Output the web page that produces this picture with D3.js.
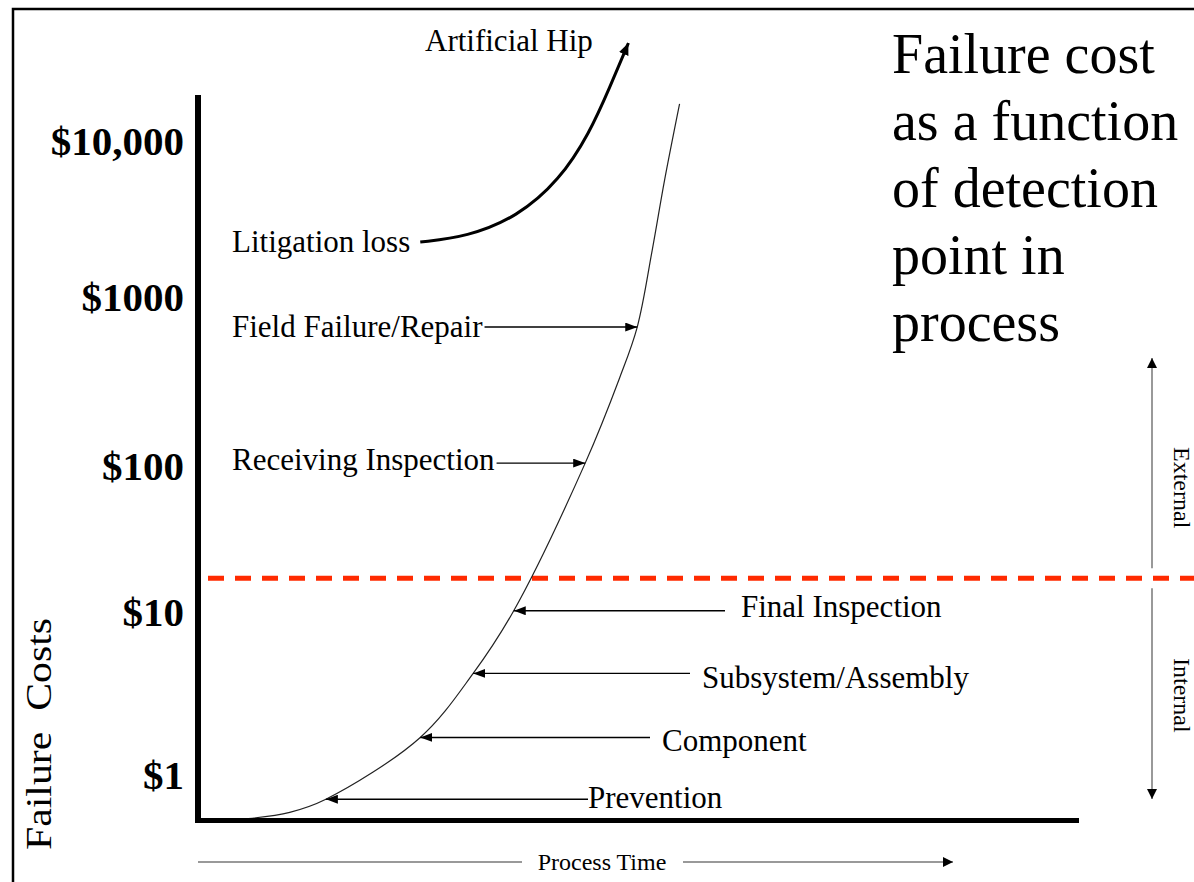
<!DOCTYPE html>
<html><head><meta charset="utf-8">
<script src="https://cdn.jsdelivr.net/npm/d3@7"></script>
<style>html,body{margin:0;padding:0;background:#fff;overflow:hidden}</style>
</head><body><svg id="c" width="1194" height="882"></svg>
<script>
// ---- data ----
const yTickValues = [1, 10, 100, 1000, 10000];
const yTickLabels = ["$1", "$10", "$100", "$1000", "$10,000"];
// main failure-cost curve (process time %, cost $)
const processTime = [5.7, 10.4, 14.5, 25.2, 31.2, 35.8, 43.9, 47.8, 49.8, 51.5, 52.9, 54.6];
const failureCost = [0.54, 0.59, 0.71, 1.7, 4.2, 10.2, 104, 332, 664, 2000, 5620, 17300];
// litigation loss -> artificial hip curve
const hipTime = [25.2, 30.5, 36.2, 41.0, 44.4, 46.7, 48.8];
const hipCost = [2250, 2430, 3260, 5620, 11250, 22200, 42500];
// detection stages
const stageLabels = ["Prevention", "Component", "Subsystem/Assembly", "Final Inspection", "Receiving Inspection", "Field Failure/Repair"];
const stageTime = [14.5, 25.2, 31.2, 35.8, 43.9, 49.8];
const stageCost = [0.71, 1.7, 4.2, 10.2, 104, 664];
const internalExternalCost = 17;
const titleLines = ["Failure cost", "as a function", "of detection", "point in", "process"];

// ---- layout ----
const W = 1194, H = 882;
const serif = "'Liberation Serif','Times New Roman',serif";
const svg = d3.select("#c");
svg.append("rect").attr("width", W).attr("height", H).attr("fill", "#fff");

const x = d3.scaleLinear().domain([0, 100]).range([198, 1080]);
const y = d3.scaleLog().domain(yTickValues).range([775, 612, 466, 297, 141]);

const defs = svg.append("defs");
function marker(id, color, len, wid) {
  defs.append("marker").attr("id", id).attr("viewBox", "0 0 10 10")
    .attr("refX", 10).attr("refY", 5).attr("markerUnits", "userSpaceOnUse")
    .attr("markerWidth", len).attr("markerHeight", wid).attr("orient", "auto")
    .attr("preserveAspectRatio", "none")
    .append("path").attr("d", "M0,0L10,5L0,10Z").attr("fill", color);
}
marker("ah", "#000", 12, 9);
marker("ahBig", "#000", 12, 10);
marker("ahSide", "#000", 10, 10);

// frame
svg.append("path").attr("d", `M13,${H}V9H${W}`).attr("stroke", "#000")
  .attr("stroke-width", 2.5).attr("fill", "none");

// title
const title = svg.append("text").attr("font-family", serif).attr("font-size", 56).attr("fill", "#000");
titleLines.forEach((t, i) => title.append("tspan").attr("x", 892).attr("y", 73 + i * 67).text(t));

// y tick labels via axis
const yAxis = svg.append("g").attr("transform", "translate(184,0)")
  .call(d3.axisLeft(y).tickValues(yTickValues).tickFormat((d, i) => yTickLabels[i]).tickSize(0).tickPadding(0));
yAxis.select(".domain").remove();
yAxis.selectAll("text").attr("font-family", serif).attr("font-size", 41)
  .attr("font-weight", "bold").attr("fill", "#000").attr("text-anchor", "end").attr("dy", "0.33em");

// y axis title
svg.append("text").attr("transform", "translate(51,850) rotate(-90)")
  .attr("font-family", serif).attr("font-size", 36).style("white-space", "pre")
  .attr("textLength", 232).attr("lengthAdjust", "spacingAndGlyphs").attr("fill", "#000")
  .text("Failure  Costs");

// red dashed threshold
const yT = y(internalExternalCost);
svg.append("line").attr("x1", 208).attr("x2", W).attr("y1", yT).attr("y2", yT)
  .attr("stroke", "#ff2a00").attr("stroke-width", 5).attr("stroke-dasharray", "16,11");

// main curve
const line = d3.line().x(d => x(d[0])).y(d => y(d[1])).curve(d3.curveCatmullRom.alpha(0.5));
svg.append("path").datum(processTime.map((t, i) => [t, failureCost[i]]))
  .attr("d", line).attr("fill", "none").attr("stroke", "#222").attr("stroke-width", 1.2);

// hip curve
const hipLine = d3.line().x(d => x(d[0])).y(d => y(d[1])).curve(d3.curveBasis);
svg.append("path").datum(hipTime.map((t, i) => [t, hipCost[i]]))
  .attr("d", hipLine).attr("fill", "none").attr("stroke", "#000").attr("stroke-width", 3)
  .attr("marker-end", "url(#ahBig)");

// axes lines
svg.append("line").attr("x1", x(0)).attr("x2", x(0)).attr("y1", 95).attr("y2", 823)
  .attr("stroke", "#000").attr("stroke-width", 6);
svg.append("line").attr("x1", x(0) - 3).attr("x2", 1079).attr("y1", 820.5).attr("y2", 820.5)
  .attr("stroke", "#000").attr("stroke-width", 5);

// labels
const lbl = (xx, yy, t, size) => svg.append("text").attr("x", xx).attr("y", yy)
  .attr("font-family", serif).attr("font-size", size || 31).attr("fill", "#000").text(t);

lbl(232, y(hipCost[0]) + 10, "Litigation loss");
lbl(425, 51, "Artificial Hip");

// stage annotations
const stageSide = ["right", "right", "right", "right", "left", "left"];
const stageTextX = [588, 662, 702, 741, 232, 232];
const stageGap = [0, 12, 12, 16, 2, 2];
const stageDy = [9, 14, 15, 6, 7, 10];
stageLabels.forEach((name, i) => {
  const tx = x(stageTime[i]), ty = y(stageCost[i]);
  const t = lbl(stageTextX[i], ty + stageDy[i], name);
  let sx;
  if (stageSide[i] === "right") sx = stageTextX[i] - stageGap[i];
  else sx = stageTextX[i] + t.node().getComputedTextLength() + stageGap[i];
  svg.append("line").attr("x1", sx).attr("x2", tx).attr("y1", ty).attr("y2", ty)
    .attr("stroke", "#000").attr("stroke-width", 1.4).attr("marker-end", "url(#ah)");
});

// process time axis label
svg.append("line").attr("x1", 198).attr("x2", 522).attr("y1", 862).attr("y2", 862)
  .attr("stroke", "#777").attr("stroke-width", 1.5);
svg.append("line").attr("x1", 683).attr("x2", 953).attr("y1", 862).attr("y2", 862)
  .attr("stroke", "#777").attr("stroke-width", 1.5).attr("marker-end", "url(#ahSide)");
svg.append("text").attr("x", 602).attr("y", 870).attr("text-anchor", "middle")
  .attr("font-family", serif).attr("font-size", 24).attr("fill", "#000").text("Process Time");

// external / internal arrows
svg.append("line").attr("x1", 1152).attr("x2", 1152).attr("y1", yT - 10).attr("y2", 358)
  .attr("stroke", "#777").attr("stroke-width", 1.5).attr("marker-end", "url(#ahSide)");
svg.append("line").attr("x1", 1152).attr("x2", 1152).attr("y1", yT + 10).attr("y2", 799)
  .attr("stroke", "#777").attr("stroke-width", 1.5).attr("marker-end", "url(#ahSide)");
svg.append("text").attr("transform", "translate(1174,447) rotate(90)")
  .attr("font-family", serif).attr("font-size", 24).attr("fill", "#000").text("External");
svg.append("text").attr("transform", "translate(1174,658) rotate(90)")
  .attr("font-family", serif).attr("font-size", 24).attr("fill", "#000").text("Internal");
</script></body></html>
